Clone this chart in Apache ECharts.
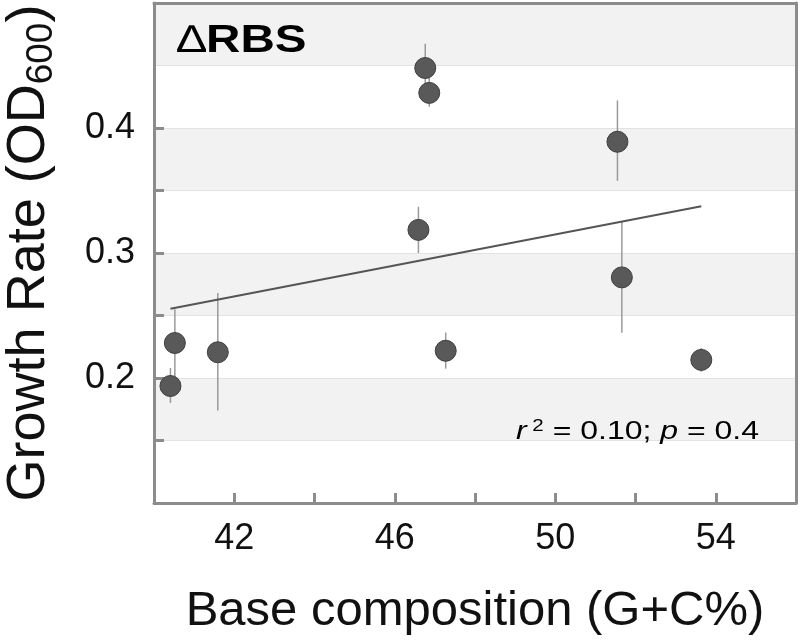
<!DOCTYPE html>
<html>
<head>
<meta charset="utf-8">
<script src="https://cdn.jsdelivr.net/npm/echarts@6/dist/echarts.min.js"></script>
<style>html,body{margin:0;padding:0;background:#fff}#c{width:802px;height:640px}</style>
</head>
<body>
<div id="c"></div>
<script>
// Data
const gcContent   = [40.41, 40.52, 41.59, 46.59, 46.76, 46.86, 47.27, 51.55, 51.66, 53.64];
const growthRate  = [0.1936, 0.228, 0.2206, 0.3185, 0.448, 0.4281, 0.2218, 0.389, 0.2805, 0.2145];
const errLow      = [0.180, 0.201, 0.174, 0.300, 0.4285, 0.417, 0.2075, 0.3577, 0.2362, 0.205];
const errHigh     = [0.208, 0.255, 0.268, 0.337, 0.4675, 0.440, 0.2364, 0.422, 0.3251, 0.224];
const xTickValues  = [42, 44, 46, 48, 50, 52, 54];
const xLabelValues = [42, 46, 50, 54];
const yTickValues  = [0.15, 0.2, 0.25, 0.3, 0.35, 0.4];
const yLabelValues = [0.2, 0.3, 0.4];
const panelLabel = 'RBS';
const statsText = { r2: '0.10', p: '0.4' };

// Least-squares fit computed from the data
const n = gcContent.length;
const mx = gcContent.reduce((a, b) => a + b, 0) / n;
const my = growthRate.reduce((a, b) => a + b, 0) / n;
let sxy = 0, sxx = 0;
for (let i = 0; i < n; i++) { sxy += (gcContent[i] - mx) * (growthRate[i] - my); sxx += (gcContent[i] - mx) ** 2; }
const slope = sxy / sxx, icept = my - slope * mx;
const xMin = Math.min(...gcContent), xMax = Math.max(...gcContent);
const fitLine = [[xMin, icept + slope * xMin], [xMax, icept + slope * xMax]];

const points = gcContent.map((x, i) => [x, growthRate[i]]);
const bars = gcContent.map((x, i) => [x, errLow[i], errHigh[i]]);

const FONT = '"Liberation Sans", Arial, sans-serif';
const frameColor = '#8c8c8c';

const chart = echarts.init(document.getElementById('c'), null, { renderer: 'canvas' });
chart.setOption({
  animation: false,
  backgroundColor: '#fff',
  grid: { left: 154, right: 6, top: 3, bottom: 137, containLabel: false, outerBoundsMode: 'none' },
  xAxis: [{
    type: 'value', min: 40, max: 56, interval: 2,
    name: 'Base composition (G+C%)', nameLocation: 'middle', nameGap: 84,
    nameTextStyle: { fontFamily: FONT, fontSize: 49, color: '#111' },
    axisLine: { show: true, lineStyle: { color: frameColor, width: 3 } },
    axisTick: { show: true, inside: true, length: 10, lineStyle: { color: frameColor, width: 3 }, customValues: xTickValues },
    axisLabel: { fontFamily: FONT, fontSize: 36, color: '#111', margin: 18, customValues: xLabelValues },
    splitLine: { show: false }
  }, {
    type: 'value', min: 40, max: 56, position: 'top',
    axisLine: { show: true, lineStyle: { color: frameColor, width: 3 } },
    axisTick: { show: false }, axisLabel: { show: false }, splitLine: { show: false }
  }],
  yAxis: [{
    type: 'value', min: 0.1, max: 0.5, interval: 0.05,
    name: '{m|Growth Rate (OD}{s|600}{m|)}', nameLocation: 'middle', nameGap: 98, nameRotate: 90,
    nameTextStyle: {
      rich: {
        m: { fontFamily: FONT, fontSize: 54, color: '#111' },
        s: { fontFamily: FONT, fontSize: 37, color: '#111', verticalAlign: 'bottom', padding: [0, 0, -4, 0] }
      }
    },
    axisLine: { show: true, lineStyle: { color: frameColor, width: 3 } },
    axisTick: { show: true, inside: true, length: 10, lineStyle: { color: frameColor, width: 3 }, customValues: yTickValues },
    axisLabel: { fontFamily: FONT, fontSize: 36, color: '#111', margin: 19, customValues: yLabelValues, formatter: v => v.toFixed(1) },
    splitLine: { show: false },
    splitArea: { show: false }
  }, {
    type: 'value', min: 0.1, max: 0.5, interval: 0.05, position: 'right',
    axisLine: { show: true, lineStyle: { color: frameColor, width: 3 } },
    axisTick: { show: false }, axisLabel: { show: false },
    splitLine: { show: true, lineStyle: { color: '#e2e2e2', width: 1 } },
    splitArea: { show: true, areaStyle: { color: ['#ffffff', '#f2f2f2'] } }
  }],
  graphic: [{
    type: 'text', left: 177, top: 22, z: 10, scaleX: 1.22,
    style: {
      text: '{d|\u2206}{b|' + panelLabel + '}',
      rich: {
        d: { fontFamily: FONT, fontSize: 39, color: '#000' },
        b: { fontFamily: FONT, fontSize: 39, fontWeight: 'bold', color: '#000' }
      }
    }
  }, {
    type: 'text', left: 516, top: 419, z: 10, scaleX: 1.28,
    style: {
      text: '{i|r}{sup| 2}{n| = ' + statsText.r2 + '; }{i|p}{n| = ' + statsText.p + '}',
      rich: {
        i: { fontFamily: FONT, fontSize: 25, fontStyle: 'italic', color: '#111' },
        n: { fontFamily: FONT, fontSize: 25, color: '#111' },
        sup: { fontFamily: FONT, fontSize: 16, color: '#111', verticalAlign: 'top', padding: [0, 0, 10, 0] }
      }
    }
  }],
  series: [{
    type: 'custom', z: 2,
    data: bars,
    renderItem: (params, api) => {
      const a = api.coord([api.value(0), api.value(1)]);
      const b = api.coord([api.value(0), api.value(2)]);
      return { type: 'line', shape: { x1: a[0], y1: a[1], x2: b[0], y2: b[1] }, style: { stroke: '#9a9a9a', lineWidth: 1.5 } };
    },
    silent: true
  }, {
    type: 'line', z: 3, data: fitLine, symbol: 'none',
    lineStyle: { color: '#555', width: 2 }, silent: true
  }, {
    type: 'scatter', z: 4, data: points, symbol: 'circle', symbolSize: 21,
    itemStyle: { color: '#595959', borderColor: '#3f3f3f', borderWidth: 1, opacity: 1 }, silent: true
  }]
});
</script>
</body>
</html>
